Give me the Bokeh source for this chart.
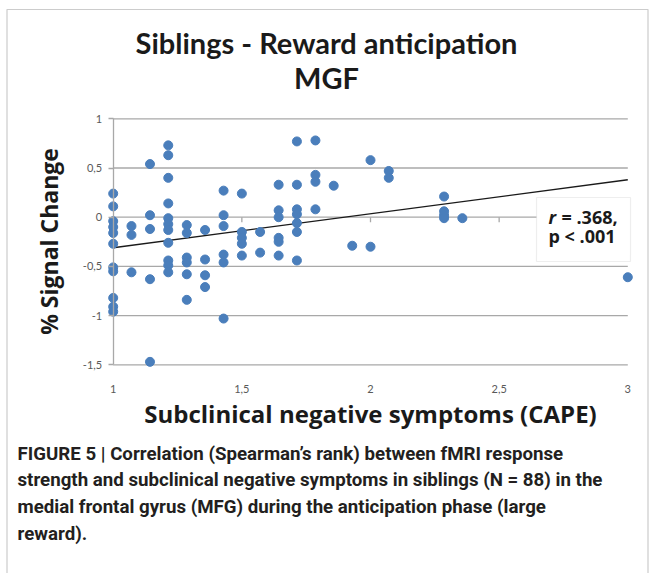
from bokeh.plotting import figure
from bokeh.models import Range1d, FixedTicker, Label, BoxAnnotation
from bokeh.embed import file_html
from bokeh.resources import INLINE

# ---------------- data ----------------
cape = (
    [1.0] * 11 + [1.071] * 3 + [1.143] * 5 + [1.214] * 11 + [1.286] * 6 +
    [1.357] * 4 + [1.429] * 6 + [1.5] * 5 + [1.571] * 2 + [1.643] * 6 +
    [1.714] * 7 + [1.786] * 4 + [1.857] + [1.929] + [2.0] * 2 + [2.071] * 2 +
    [2.286] * 4 + [2.357] + [3.0]
)
signal = (
    [0.24, 0.11, -0.04, -0.10, -0.16, -0.27, -0.51, -0.55, -0.82, -0.91, -0.96]
    + [-0.09, -0.18, -0.56]
    + [0.54, 0.02, -0.12, -0.63, -1.47]
    + [0.73, 0.63, 0.40, 0.14, -0.01, -0.07, -0.13, -0.26, -0.44, -0.49, -0.56]
    + [-0.08, -0.16, -0.41, -0.46, -0.58, -0.84]
    + [-0.13, -0.43, -0.59, -0.71]
    + [0.27, 0.02, -0.09, -0.38, -0.46, -1.03]
    + [0.24, -0.15, -0.21, -0.27, -0.39]
    + [-0.15, -0.36]
    + [0.33, 0.07, 0.00, -0.21, -0.25, -0.39]
    + [0.77, 0.33, 0.08, 0.03, -0.06, -0.15, -0.44]
    + [0.78, 0.43, 0.36, 0.08]
    + [0.32]
    + [-0.29]
    + [0.58, -0.30]
    + [0.47, 0.40]
    + [0.21, 0.06, 0.02, -0.01]
    + [-0.01]
    + [-0.61]
)
trend_x = [1.0, 3.0]
trend_y = [-0.31, 0.38]

x_ticks = [1, 1.5, 2, 2.5, 3]
x_tick_labels = ["1", "1,5", "2", "2,5", "3"]
y_ticks = [-1.5, -1, -0.5, 0, 0.5, 1]
y_tick_labels = ["-1,5", "-1", "-0,5", "0", "0,5", "1"]

title_1 = "Siblings - Reward anticipation"
title_2 = "MGF"
x_title = "Subclinical negative symptoms (CAPE)"
y_title = "% Signal Change"
stat_r = "= .368,"
stat_p = "p < .001"
caption = [
    "FIGURE 5 | Correlation (Spearman\u2019s rank) between fMRI response",
    "strength and subclinical negative symptoms in siblings (N = 88) in the",
    "medial frontal gyrus (MFG) during the anticipation phase (large",
    "reward).",
]

# ---------------- layout helpers ----------------
TITLE_FONT = "Lato"
LABEL_FONT = "Open Sans"
GRID = "#a8a8a8"
BLUE = "#4A7EBB"
INK = "#1a1a1a"

W, H = 652, 573
X1_PX, X3_PX = 112.7, 627.3        # canvas x of x=1 and x=3
Y1_PX, YM15_PX = 118.3, 364.3      # canvas y of y=1 and y=-1.5
px_x = (X3_PX - X1_PX) / 2.0
px_y = (YM15_PX - Y1_PX) / 2.5


def X(px):
    """canvas pixel column -> data x"""
    return 1 + (px - X1_PX) / px_x


def Y(py):
    """canvas pixel row -> data y"""
    return 1 - (py - Y1_PX) / px_y


# the frame covers the whole canvas; axes are pinned inside it
p = figure(width=W, height=H, output_backend="svg", toolbar_location=None,
           x_range=Range1d(X(0), X(W)), y_range=Range1d(Y(H), Y(0)),
           min_border=0)
p.outline_line_color = None
p.grid.visible = False
p.background_fill_color = "white"
p.border_fill_color = "white"

# gridlines from x=1 to x=3
p.segment(x0=[x_ticks[0]] * len(y_ticks), x1=[x_ticks[-1]] * len(y_ticks),
          y0=y_ticks, y1=y_ticks, line_color=GRID, line_width=1.3)
# small x tick marks on the zero line
p.segment(x0=x_ticks, x1=x_ticks, y0=[0] * len(x_ticks),
          y1=[-5 / px_y] * len(x_ticks), line_color=GRID, line_width=1.3)

# axes
p.xaxis.ticker = FixedTicker(ticks=x_ticks)
p.xaxis.major_label_overrides = dict(zip(x_ticks, x_tick_labels))
p.yaxis.ticker = FixedTicker(ticks=y_ticks)
p.yaxis.major_label_overrides = dict(zip(y_ticks, y_tick_labels))
p.xaxis.fixed_location = y_ticks[0]
p.xaxis.bounds = (x_ticks[0], x_ticks[-1])
p.yaxis.fixed_location = x_ticks[0]
p.yaxis.bounds = (y_ticks[0], y_ticks[-1])
for ax in (p.xaxis, p.yaxis):
    ax.minor_tick_line_color = None
    ax.major_label_text_font = TITLE_FONT
    ax.major_label_text_font_size = "11px"
    ax.major_label_text_color = "#595959"
    ax.axis_label_text_font = LABEL_FONT
    ax.axis_label_text_font_style = "bold"
    ax.axis_label_text_color = INK
p.xaxis.axis_line_color = None
p.xaxis.major_tick_line_color = None
p.xaxis.major_tick_out = 0
p.xaxis.major_tick_in = 0
p.xaxis.major_label_standoff = 20
p.xaxis.axis_label = x_title
p.xaxis.axis_label_text_font_size = "24px"
p.xaxis.axis_label_standoff = 1
p.yaxis.axis_line_color = GRID
p.yaxis.axis_line_width = 1.3
p.yaxis.major_tick_line_color = GRID
p.yaxis.major_tick_line_width = 1.3
p.yaxis.major_tick_in = 0
p.yaxis.major_tick_out = 5
p.yaxis.major_label_standoff = 6
p.yaxis.axis_label = y_title
p.yaxis.axis_label_text_font_size = "23px"
p.yaxis.axis_label_standoff = 15

# regression line and points
p.line(trend_x, trend_y, line_color=INK, line_width=1.4)
p.scatter(cape, signal, size=9, fill_color=BLUE, line_color=BLUE)

# statistics box
p.add_layout(BoxAnnotation(left=X(536), right=X(630), top=Y(197), bottom=Y(261),
                           fill_color="white", fill_alpha=1.0,
                           line_color="#c8c8c8", line_width=1.2, level="overlay"))
p.add_layout(Label(x=X(548), y=Y(216.7), text="r", text_font=LABEL_FONT,
                   text_font_style="bold italic", text_font_size="18px",
                   text_color=INK, text_baseline="middle", level="overlay"))
p.add_layout(Label(x=X(548), y=Y(216.7), x_offset=13, text=stat_r,
                   text_font=LABEL_FONT, text_font_style="bold",
                   text_font_size="18px", text_color=INK,
                   text_baseline="middle", level="overlay"))
p.add_layout(Label(x=X(548), y=Y(235), text=stat_p,
                   text_font=LABEL_FONT, text_font_style="bold",
                   text_font_size="18px", text_color=INK,
                   text_baseline="middle", level="overlay"))

# titles
for text, cy in ((title_1, 42), (title_2, 77)):
    p.add_layout(Label(x=X(326), y=Y(cy), text=text, text_font=TITLE_FONT,
                       text_font_style="bold", text_font_size="29px",
                       text_color=INK, text_align="center",
                       text_baseline="middle"))

# caption
for i, line in enumerate(caption):
    p.add_layout(Label(x=X(17), y=Y(453 + 26.7 * i), text=line,
                       text_font="Roboto", text_font_style="bold",
                       text_font_size="18.7px", text_color="#231f20",
                       text_baseline="middle"))

# outer frame line (left, top and right edges)
p.add_layout(BoxAnnotation(left=X(6.5), right=X(647.5), top=Y(9), bottom=Y(H + 40),
                           fill_alpha=0.0, line_color="#555555", line_width=1.2))

open("out.html", "w").write(file_html(p, INLINE))
